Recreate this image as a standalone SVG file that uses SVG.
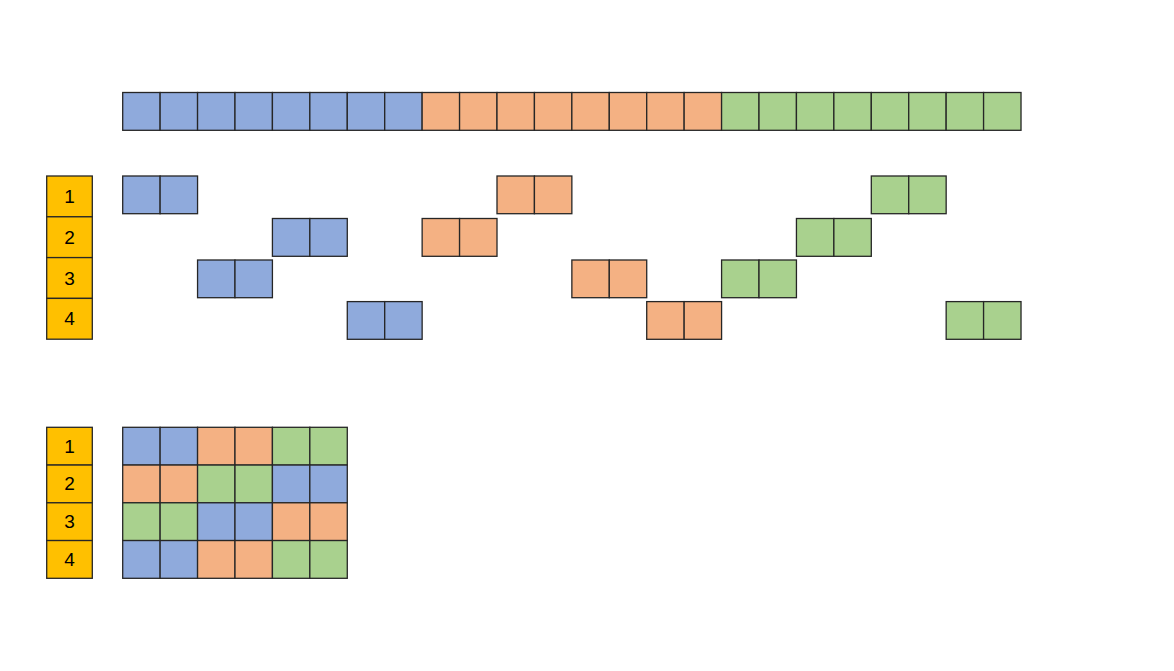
<svg xmlns="http://www.w3.org/2000/svg" width="1174" height="671" viewBox="0 0 1174 671">
<style>
rect{stroke:#262626;stroke-width:1.3}
.b{fill:#8FAADC}.o{fill:#F4B183}.g{fill:#A9D18E}.y{fill:#FFC000}
text{font-family:"Liberation Sans",Arial,sans-serif;font-size:19px;fill:#000;text-anchor:middle;dominant-baseline:central}
</style>
<rect width="1174" height="671" fill="#fff" style="stroke:none"/>
<g id="top-row">
<rect class="b" x="122.7" y="92.5" width="37.43" height="37.8"/>
<rect class="b" x="160.13" y="92.5" width="37.43" height="37.8"/>
<rect class="b" x="197.56" y="92.5" width="37.43" height="37.8"/>
<rect class="b" x="234.99" y="92.5" width="37.43" height="37.8"/>
<rect class="b" x="272.42" y="92.5" width="37.43" height="37.8"/>
<rect class="b" x="309.85" y="92.5" width="37.43" height="37.8"/>
<rect class="b" x="347.28" y="92.5" width="37.43" height="37.8"/>
<rect class="b" x="384.71" y="92.5" width="37.43" height="37.8"/>
<rect class="o" x="422.14" y="92.5" width="37.43" height="37.8"/>
<rect class="o" x="459.57" y="92.5" width="37.43" height="37.8"/>
<rect class="o" x="497.0" y="92.5" width="37.43" height="37.8"/>
<rect class="o" x="534.43" y="92.5" width="37.43" height="37.8"/>
<rect class="o" x="571.86" y="92.5" width="37.43" height="37.8"/>
<rect class="o" x="609.29" y="92.5" width="37.43" height="37.8"/>
<rect class="o" x="646.72" y="92.5" width="37.43" height="37.8"/>
<rect class="o" x="684.15" y="92.5" width="37.43" height="37.8"/>
<rect class="g" x="721.58" y="92.5" width="37.43" height="37.8"/>
<rect class="g" x="759.01" y="92.5" width="37.43" height="37.8"/>
<rect class="g" x="796.44" y="92.5" width="37.43" height="37.8"/>
<rect class="g" x="833.87" y="92.5" width="37.43" height="37.8"/>
<rect class="g" x="871.3" y="92.5" width="37.43" height="37.8"/>
<rect class="g" x="908.73" y="92.5" width="37.43" height="37.8"/>
<rect class="g" x="946.16" y="92.5" width="37.43" height="37.8"/>
<rect class="g" x="983.59" y="92.5" width="37.43" height="37.8"/>
</g>
<g id="labels-top">
<rect class="y" x="46.7" y="176" width="45.6" height="40.8"/>
<rect class="y" x="46.7" y="216.8" width="45.6" height="40.8"/>
<rect class="y" x="46.7" y="257.6" width="45.6" height="40.8"/>
<rect class="y" x="46.7" y="298.4" width="45.6" height="40.8"/>
<text x="69.5" y="196.4">1</text>
<text x="69.5" y="237.2">2</text>
<text x="69.5" y="278">3</text>
<text x="69.5" y="318.8">4</text>
</g>
<g id="row1">
<rect class="b" x="122.7" y="176" width="37.43" height="37.7"/>
<rect class="b" x="160.13" y="176" width="37.43" height="37.7"/>
<rect class="o" x="497.0" y="176" width="37.43" height="37.7"/>
<rect class="o" x="534.43" y="176" width="37.43" height="37.7"/>
<rect class="g" x="871.3" y="176" width="37.43" height="37.7"/>
<rect class="g" x="908.73" y="176" width="37.43" height="37.7"/>
</g>
<g id="row2">
<rect class="b" x="272.42" y="218.5" width="37.43" height="37.8"/>
<rect class="b" x="309.85" y="218.5" width="37.43" height="37.8"/>
<rect class="o" x="422.14" y="218.5" width="37.43" height="37.8"/>
<rect class="o" x="459.57" y="218.5" width="37.43" height="37.8"/>
<rect class="g" x="796.44" y="218.5" width="37.43" height="37.8"/>
<rect class="g" x="833.87" y="218.5" width="37.43" height="37.8"/>
</g>
<g id="row3">
<rect class="b" x="197.56" y="260" width="37.43" height="37.7"/>
<rect class="b" x="234.99" y="260" width="37.43" height="37.7"/>
<rect class="o" x="571.86" y="260" width="37.43" height="37.7"/>
<rect class="o" x="609.29" y="260" width="37.43" height="37.7"/>
<rect class="g" x="721.58" y="260" width="37.43" height="37.7"/>
<rect class="g" x="759.01" y="260" width="37.43" height="37.7"/>
</g>
<g id="row4">
<rect class="b" x="347.28" y="301.6" width="37.43" height="37.7"/>
<rect class="b" x="384.71" y="301.6" width="37.43" height="37.7"/>
<rect class="o" x="646.72" y="301.6" width="37.43" height="37.7"/>
<rect class="o" x="684.15" y="301.6" width="37.43" height="37.7"/>
<rect class="g" x="946.16" y="301.6" width="37.43" height="37.7"/>
<rect class="g" x="983.59" y="301.6" width="37.43" height="37.7"/>
</g>
<g id="labels-bottom">
<rect class="y" x="46.7" y="427.3" width="45.6" height="37.75"/>
<rect class="y" x="46.7" y="465.05" width="45.6" height="37.75"/>
<rect class="y" x="46.7" y="502.8" width="45.6" height="37.75"/>
<rect class="y" x="46.7" y="540.55" width="45.6" height="37.75"/>
<text x="69.5" y="446.2">1</text>
<text x="69.5" y="483.9">2</text>
<text x="69.5" y="521.7">3</text>
<text x="69.5" y="559.4">4</text>
</g>
<g id="grid">
<rect class="b" x="122.7" y="427.3" width="37.43" height="37.75"/>
<rect class="b" x="160.13" y="427.3" width="37.43" height="37.75"/>
<rect class="o" x="197.56" y="427.3" width="37.43" height="37.75"/>
<rect class="o" x="234.99" y="427.3" width="37.43" height="37.75"/>
<rect class="g" x="272.42" y="427.3" width="37.43" height="37.75"/>
<rect class="g" x="309.85" y="427.3" width="37.43" height="37.75"/>
<rect class="o" x="122.7" y="465.05" width="37.43" height="37.75"/>
<rect class="o" x="160.13" y="465.05" width="37.43" height="37.75"/>
<rect class="g" x="197.56" y="465.05" width="37.43" height="37.75"/>
<rect class="g" x="234.99" y="465.05" width="37.43" height="37.75"/>
<rect class="b" x="272.42" y="465.05" width="37.43" height="37.75"/>
<rect class="b" x="309.85" y="465.05" width="37.43" height="37.75"/>
<rect class="g" x="122.7" y="502.8" width="37.43" height="37.75"/>
<rect class="g" x="160.13" y="502.8" width="37.43" height="37.75"/>
<rect class="b" x="197.56" y="502.8" width="37.43" height="37.75"/>
<rect class="b" x="234.99" y="502.8" width="37.43" height="37.75"/>
<rect class="o" x="272.42" y="502.8" width="37.43" height="37.75"/>
<rect class="o" x="309.85" y="502.8" width="37.43" height="37.75"/>
<rect class="b" x="122.7" y="540.55" width="37.43" height="37.75"/>
<rect class="b" x="160.13" y="540.55" width="37.43" height="37.75"/>
<rect class="o" x="197.56" y="540.55" width="37.43" height="37.75"/>
<rect class="o" x="234.99" y="540.55" width="37.43" height="37.75"/>
<rect class="g" x="272.42" y="540.55" width="37.43" height="37.75"/>
<rect class="g" x="309.85" y="540.55" width="37.43" height="37.75"/>
</g>
</svg>
